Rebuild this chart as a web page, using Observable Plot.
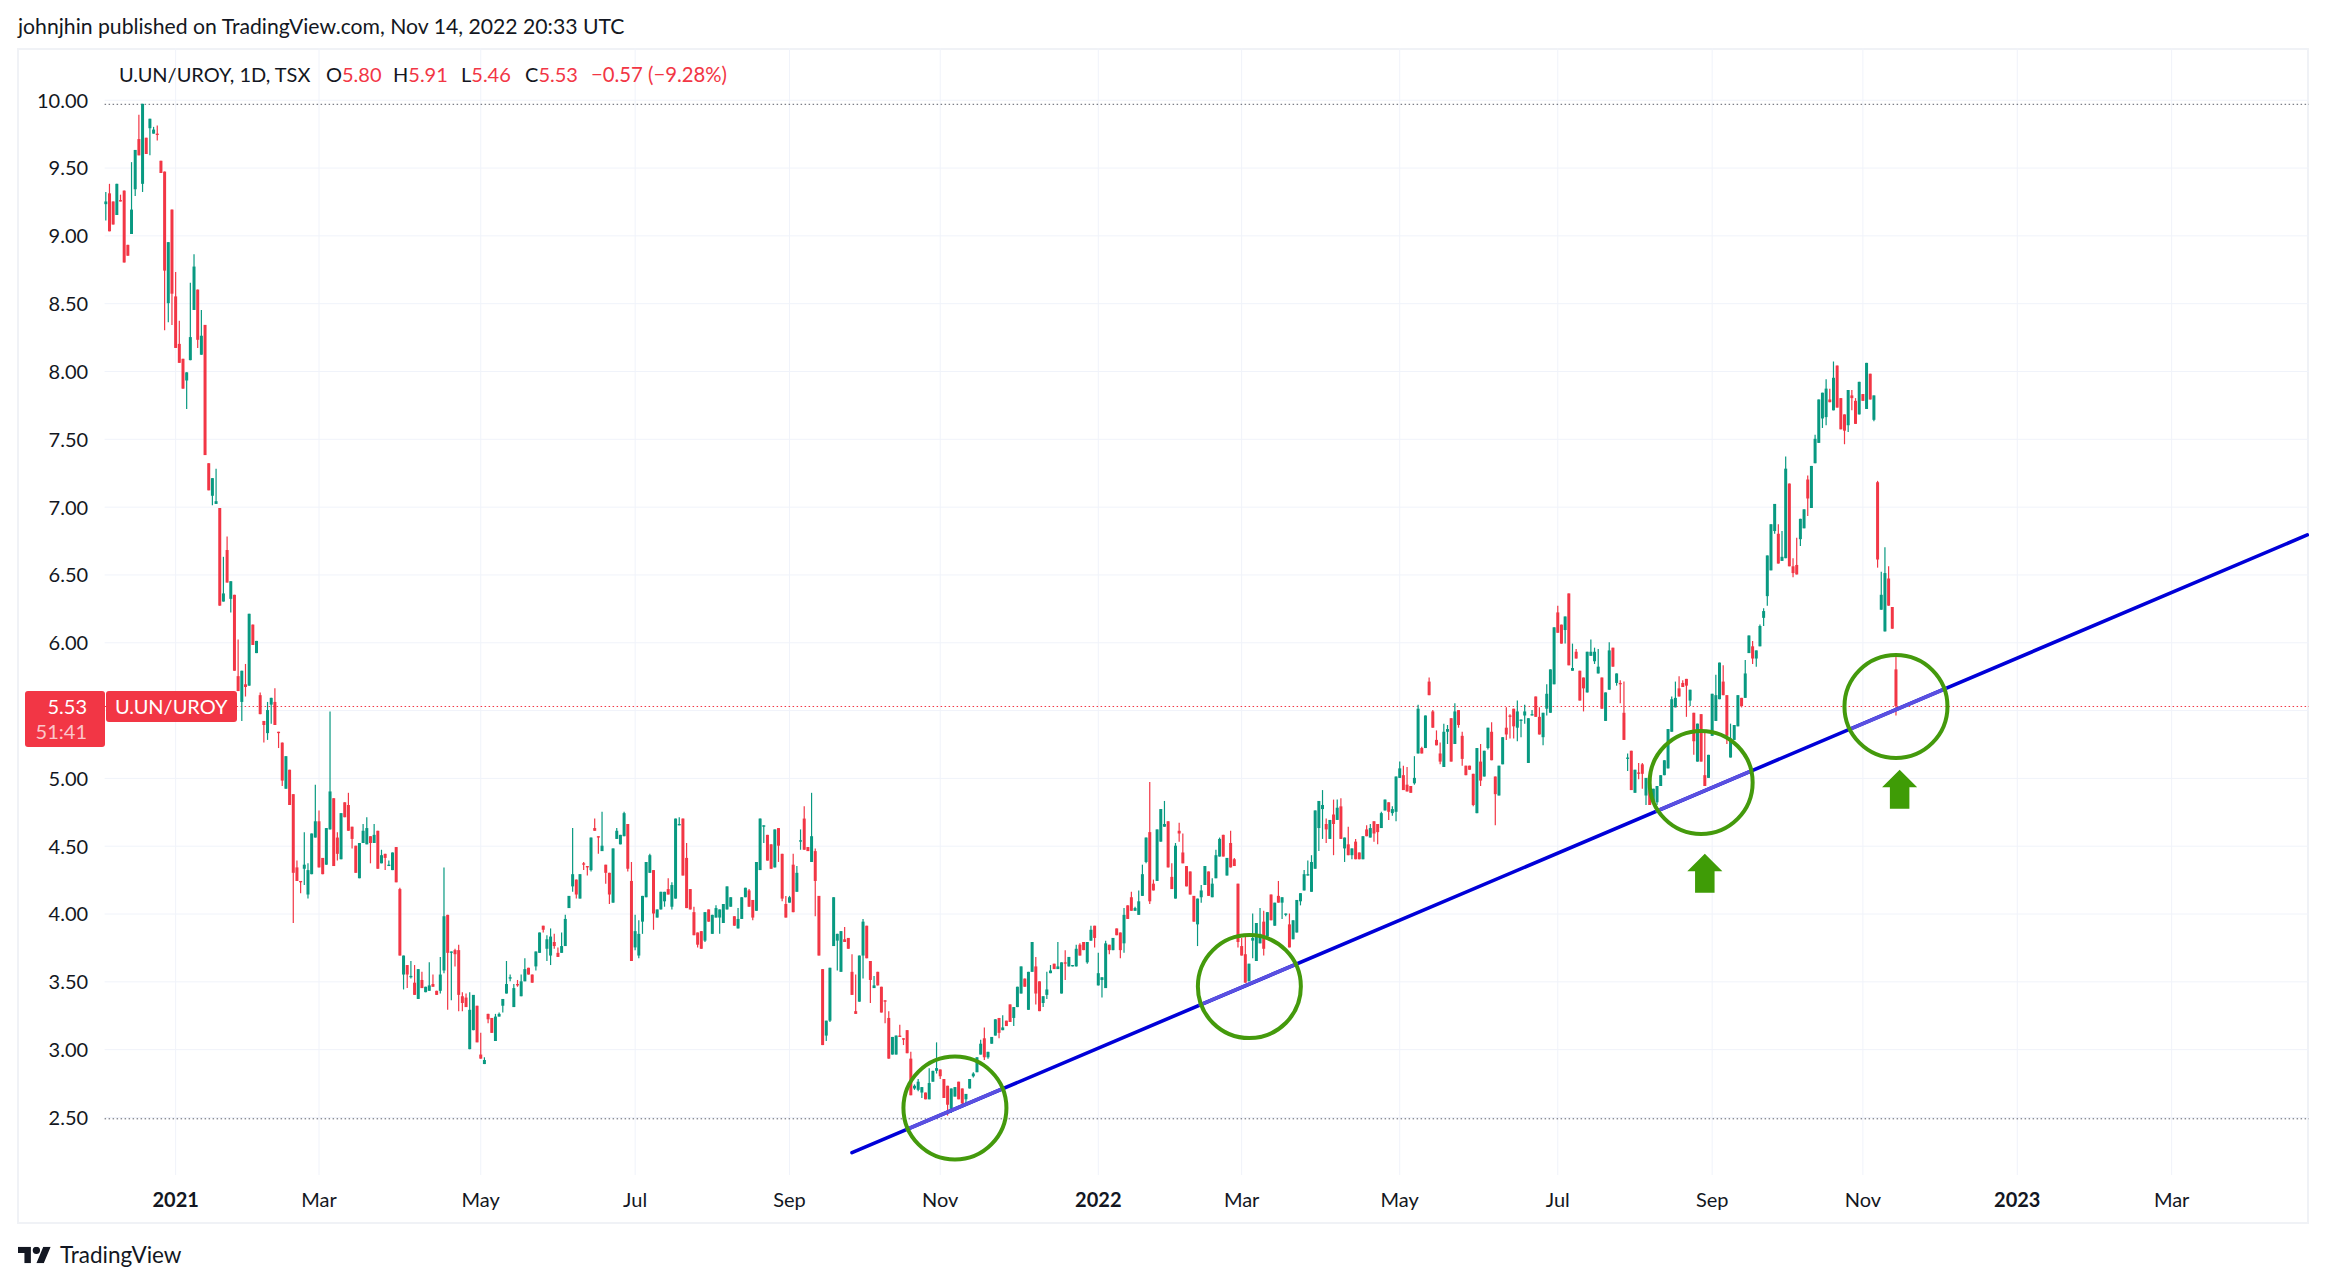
<!DOCTYPE html>
<html>
<head>
<meta charset="utf-8">
<script src="https://cdn.jsdelivr.net/npm/d3@7"></script>
<script src="https://cdn.jsdelivr.net/npm/@observablehq/plot@0.6"></script>
<style>
html,body{margin:0;padding:0;background:#fff;overflow:hidden}
body{width:2326px;height:1285px;position:relative;font-family:"Lato",sans-serif;color:#131722}
.abs{position:absolute;white-space:pre;line-height:1}
#frame{position:absolute;left:17px;top:48px;width:2292px;height:1176px;box-sizing:border-box;border:2px solid #f0f2f6}
.tag{position:absolute;background:#f23645;border-radius:3px}
.r{color:#f23645}
#logo{position:absolute;left:18px;top:1243px;width:36px;height:28px;background:#131722;transform:scale(.92);transform-origin:0 0;
clip-path:path('M14 22H7V11H0V4h14v18zM28 22h-8l7.5-18h8L28 22zM16 8a4 4 0 1 0 8 0a4 4 0 1 0-8 0z')}
</style>
</head>
<body>
<div class="abs" id="title" style="left:18px;top:16px;font-size:21.2px">johnjhin published on TradingView.com, Nov 14, 2022 20:33 UTC</div>
<div id="frame"></div>
<div class="abs" style="left:119px;top:64px;font-size:20px">U.UN/UROY, 1D, TSX</div>
<div class="abs" style="left:326px;top:64px;font-size:20px">O<span class="r">5.80</span></div>
<div class="abs" style="left:393px;top:64px;font-size:20px">H<span class="r">5.91</span></div>
<div class="abs" style="left:461px;top:64px;font-size:20px">L<span class="r">5.46</span></div>
<div class="abs" style="left:525px;top:64px;font-size:20px">C<span class="r">5.53</span></div>
<div class="abs r" style="left:591px;top:64px;font-size:20px;font-size:20.3px">−0.57 (−9.28%)</div>
<div class="tag" style="left:25px;top:691px;width:80px;height:56px"></div>
<div class="tag" style="left:106px;top:691px;width:131px;height:31px"></div>
<div class="abs" style="left:25px;width:62px;text-align:right;top:696px;font-size:20px;color:#fff">5.53</div>
<div class="abs" style="left:25px;width:62px;text-align:right;top:721px;font-size:20px;color:rgba(255,255,255,.72)">51:41</div>
<div class="abs" style="left:115px;top:696px;font-size:20px;color:#fff">U.UN/UROY</div>
<div id="logo"></div>
<div class="abs" style="left:60px;top:1244px;font-size:22.5px;color:#131722">TradingView</div>
<script>
// Bars as [open, high, low, close], in price order.
const barsA=[[9.23,9.32,9.11,9.25],[9.31,9.38,9.03,9.03],[9.25,9.25,9.08,9.08],[9.15,9.38,9.15,9.38],[9.26,9.30,9.25,9.25],[9.33,9.33,8.80,8.80],[8.93,8.93,8.85,8.85],[9.01,9.54,9.01,9.19],[9.34,9.63,9.29,9.63],[9.71,9.89,9.59,9.59],[9.38,9.97,9.32,9.97],[9.72,9.72,9.60,9.60],[9.79,9.86,9.59,9.86],[9.75,9.80,9.75,9.78],[9.75,9.81,9.70,9.74],[9.55,9.55,9.46,9.46],[9.47,9.47,8.30,8.74],[8.50,8.95,8.36,8.95],[9.19,9.19,8.34,8.57],[8.55,8.73,8.17,8.17],[8.20,8.37,8.06,8.06],[8.09,8.09,7.87,7.87],[7.93,7.99,7.72,7.99],[8.08,8.65,8.08,8.25],[8.45,8.86,8.45,8.77],[8.60,8.60,8.17,8.23],[8.12,8.45,8.12,8.26],[8.34,8.34,7.38,7.38],[7.32,7.32,7.12,7.12],[7.08,7.21,7.01,7.21],[7.02,7.28,7.02,7.04],[6.99,6.99,6.27,6.27],[6.30,6.63,6.30,6.36],[6.68,6.78,6.44,6.44],[6.32,6.45,6.22,6.45]];
const barsB=[[6.35,6.35,5.79,5.79],[5.75,6.02,5.64,5.64],[5.56,5.79,5.42,5.79],[5.69,5.84,5.60,5.67],[5.68,6.21,5.68,6.21],[6.13,6.13,5.98,5.98],[5.92,6.01,5.92,6.01],[5.61,5.63,5.47,5.47],[5.42,5.42,5.26,5.39],[5.33,5.56,5.28,5.50],[5.54,5.59,5.40,5.59],[5.56,5.66,5.39,5.39],[5.34,5.34,5.22,5.33],[5.26,5.26,4.94,4.98],[4.92,5.16,4.92,5.16],[5.06,5.06,4.80,4.80],[4.88,4.88,3.93,4.30],[4.34,4.39,4.24,4.24],[4.24,4.24,4.15,4.23],[4.33,4.60,4.21,4.36],[4.14,4.37,4.11,4.32],[4.29,4.59,4.29,4.59],[4.56,4.95,4.56,4.68],[4.68,4.76,4.34,4.34],[4.41,4.41,4.29,4.29],[4.36,4.63,4.36,4.63],[4.62,5.49,4.62,4.90],[4.85,4.85,4.35,4.35],[4.56,4.60,4.39,4.44],[4.40,4.74,4.40,4.74],[4.82,4.82,4.71,4.71],[4.80,4.89,4.61,4.61],[4.64,4.64,4.48,4.55],[4.50,4.50,4.30,4.30],[4.26,4.52,4.26,4.52],[4.52,4.66,4.52,4.61],[4.51,4.71,4.51,4.63],[4.57,4.57,4.37,4.52],[4.52,4.66,4.52,4.58],[4.61,4.61,4.33,4.33],[4.37,4.47,4.37,4.43],[4.44,4.44,4.32,4.41],[4.35,4.39,4.35,4.36],[4.32,4.45,4.32,4.45],[4.49,4.49,4.23,4.23],[4.18,4.19,3.69,3.69],[3.55,3.69,3.44,3.69],[3.62,3.62,3.45,3.55],[3.53,3.65,3.52,3.54],[3.49,3.62,3.40,3.40],[3.37,3.59,3.37,3.59],[3.51,3.57,3.45,3.45],[3.42,3.46,3.42,3.46],[3.43,3.64,3.43,3.47],[3.48,3.55,3.46,3.46],[3.43,3.43,3.40,3.40],[3.43,3.68,3.41,3.55],[3.58,4.34,3.56,3.98],[3.99,3.99,3.29,3.71],[3.71,3.72,3.36,3.72],[3.73,3.74,3.61,3.70],[3.73,3.77,3.28,3.40],[3.39,3.42,3.28,3.34],[3.38,3.41,3.31,3.31],[3.00,3.42,3.00,3.29],[3.14,3.40,3.14,3.40],[3.32,3.32,3.05,3.05],[2.96,3.12,2.93,2.93],[2.89,2.94,2.89,2.92],[3.26,3.26,3.19,3.22],[3.23,3.23,3.12,3.12],[3.06,3.26,3.06,3.24],[3.24,3.27,3.24,3.26],[3.32,3.37,3.27,3.37],[3.41,3.65,3.41,3.48],[3.52,3.55,3.50,3.53],[3.31,3.48,3.31,3.45],[3.48,3.51,3.46,3.47],[3.39,3.55,3.39,3.50],[3.50,3.67,3.50,3.59],[3.60,3.60,3.55,3.55],[3.55,3.55,3.49,3.49],[3.61,3.72,3.58,3.72],[3.71,3.86,3.71,3.86],[3.91,3.91,3.86,3.88],[3.74,3.84,3.65,3.81],[3.69,3.89,3.62,3.83],[3.79,3.85,3.74,3.76],[3.71,3.75,3.68,3.68],[3.71,3.86,3.71,3.76],[3.76,3.99,3.76,3.96],[4.04,4.13,4.04,4.13],[4.20,4.63,4.16,4.29],[4.25,4.25,4.11,4.14],[4.11,4.29,4.11,4.29],[4.37,4.38,4.32,4.36],[4.35,4.35,4.28,4.34],[4.32,4.56,4.31,4.56],[4.63,4.70,4.61,4.61],[4.57,4.57,4.44,4.56],[4.46,4.75,4.46,4.50],[4.36,4.36,4.22,4.30],[4.30,4.30,4.07,4.14],[4.08,4.48,4.08,4.48],[4.55,4.63,4.55,4.61]];
const barsC=[[4.51,4.58,4.51,4.58],[4.57,4.75,4.57,4.74],[4.66,4.66,4.31,4.33],[4.24,4.38,3.65,3.65],[3.75,3.99,3.73,3.87],[3.69,3.95,3.67,3.85],[3.94,4.13,3.85,4.13],[4.12,4.38,4.12,4.38],[4.30,4.44,4.30,4.43],[4.32,4.32,3.88,4.00],[3.97,4.03,3.97,4.03],[4.03,4.16,4.03,4.16],[4.09,4.16,4.05,4.16],[4.18,4.26,4.14,4.14],[4.05,4.23,4.03,4.21],[4.11,4.70,4.11,4.70],[4.65,4.71,4.65,4.66],[4.70,4.70,4.28,4.28],[4.41,4.52,4.04,4.04],[4.18,4.18,4.03,4.03],[4.01,4.05,3.84,3.84],[3.86,3.86,3.75,3.77],[3.87,3.87,3.74,3.74],[3.80,4.01,3.79,4.01],[4.03,4.03,3.94,3.94],[3.85,3.99,3.85,3.99],[3.97,4.06,3.97,4.04],[3.97,4.03,3.85,4.03],[3.93,4.07,3.93,4.07],[4.03,4.20,4.03,4.20],[4.05,4.12,4.05,4.12],[3.98,3.98,3.91,3.91],[3.89,4.04,3.89,3.96],[3.96,4.12,3.96,4.12],[4.12,4.19,4.12,4.19],[4.17,4.18,4.05,4.05],[4.10,4.10,3.95,3.97],[4.02,4.38,4.02,4.38],[4.32,4.70,4.32,4.70],[4.64,4.65,4.52,4.65],[4.58,4.58,4.39,4.39],[4.51,4.51,4.33,4.33],[4.34,4.62,4.34,4.62],[4.63,4.63,4.38,4.50],[4.44,4.44,4.09,4.11],[4.07,4.13,3.97,3.97],[4.08,4.13,4.08,4.12],[4.36,4.44,4.01,4.01],[4.16,4.35,4.16,4.30],[4.53,4.62,4.47,4.54],[4.70,4.79,4.47,4.47],[4.49,4.49,4.46,4.46],[4.38,4.89,4.38,4.57],[4.46,4.48,3.98,4.24],[4.13,4.13,3.69,3.69],[3.59,3.59,3.03,3.03],[3.10,3.21,3.06,3.21],[3.21,3.60,3.20,3.60],[3.76,4.12,3.76,4.12],[3.80,3.85,3.58,3.85],[3.57,3.87,3.57,3.87],[3.81,3.90,3.79,3.79],[3.82,3.82,3.74,3.74],[3.57,3.70,3.40,3.40],[3.28,3.55,3.26,3.26],[3.35,3.69,3.35,3.69],[3.69,3.96,3.52,3.94],[3.91,3.91,3.67,3.67],[3.65,3.65,3.34,3.51],[3.45,3.54,3.45,3.47],[3.57,3.57,3.47,3.47],[3.46,3.46,3.27,3.27],[3.36,3.36,3.19,3.35],[3.23,3.28,2.93,2.93],[2.96,3.09,2.96,3.09],[2.96,3.10,2.96,3.10],[3.10,3.18,3.09,3.09],[3.08,3.08,3.03,3.07],[3.14,3.14,2.97,2.97],[2.93,2.98,2.66,2.66],[2.71,2.74,2.70,2.73],[2.70,2.78,2.69,2.76],[2.68,2.72,2.64,2.72],[2.68,2.68,2.63,2.63],[2.63,2.86,2.63,2.75],[2.76,2.84,2.76,2.84],[2.84,3.05,2.82,2.86],[2.85,2.85,2.78,2.80],[2.78,2.78,2.64,2.64],[2.73,2.73,2.51,2.59],[2.56,2.71,2.53,2.71],[2.65,2.72,2.65,2.72],[2.76,2.76,2.63,2.63]];
const barsD=[[2.71,2.71,2.58,2.60],[2.63,2.67,2.58,2.67],[2.71,2.78,2.71,2.78],[2.80,2.83,2.79,2.82],[2.83,2.94,2.83,2.94],[2.96,3.07,2.96,3.04],[3.08,3.16,2.92,2.94],[2.94,2.98,2.93,2.98],[3.04,3.09,3.04,3.09],[3.10,3.22,3.10,3.22],[3.23,3.23,3.08,3.12],[3.14,3.25,3.14,3.16],[3.21,3.21,3.17,3.17],[3.33,3.33,3.20,3.20],[3.23,3.31,3.17,3.31],[3.31,3.46,3.31,3.46],[3.41,3.61,3.41,3.61],[3.52,3.52,3.46,3.46],[3.29,3.57,3.29,3.57],[3.57,3.79,3.57,3.79],[3.61,3.68,3.33,3.41],[3.50,3.50,3.28,3.28],[3.34,3.39,3.31,3.39],[3.40,3.57,3.37,3.44],[3.56,3.62,3.56,3.58],[3.63,3.63,3.59,3.59],[3.59,3.79,3.59,3.61],[3.41,3.64,3.41,3.64],[3.64,3.73,3.51,3.63],[3.61,3.68,3.61,3.68],[3.61,3.62,3.61,3.62],[3.61,3.77,3.61,3.74],[3.77,3.78,3.69,3.69],[3.79,3.79,3.73,3.73],[3.64,3.79,3.63,3.79],[3.80,3.91,3.80,3.88],[3.91,3.91,3.75,3.82],[3.47,3.71,3.47,3.56],[3.51,3.53,3.38,3.53],[3.45,3.80,3.45,3.78],[3.77,3.77,3.70,3.73],[3.73,3.82,3.73,3.82],[3.89,3.89,3.84,3.84],[3.86,3.86,3.67,3.73],[3.78,4.04,3.71,3.99],[4.06,4.06,3.96,3.96],[4.12,4.16,4.02,4.02],[4.02,4.05,4.02,4.04],[3.99,4.17,3.99,4.09],[4.13,4.36,4.13,4.29],[4.38,4.56,4.37,4.56],[4.60,4.97,4.07,4.09],[4.22,4.25,4.17,4.17],[4.24,4.62,4.24,4.62],[4.53,4.77,4.53,4.77],[4.64,4.83,4.64,4.66],[4.68,4.68,4.34,4.34],[4.27,4.37,4.18,4.18],[4.11,4.52,4.11,4.50],[4.61,4.67,4.53,4.59],[4.45,4.59,4.37,4.37],[4.35,4.35,4.20,4.20],[4.31,4.31,4.14,4.14],[4.13,4.13,3.94,3.94],[3.92,4.11,3.76,4.11],[4.12,4.21,4.08,4.17],[4.21,4.35,4.21,4.35],[4.31,4.31,4.13,4.13],[4.12,4.26,4.12,4.22],[4.26,4.47,4.26,4.43],[4.42,4.56,4.42,4.55],[4.58,4.58,4.42,4.42],[4.28,4.41,4.28,4.41],[4.52,4.61,4.34,4.34],[4.40,4.41,4.35,4.35],[4.22,4.22,3.75,3.79],[3.76,3.82,3.69,3.69],[3.70,3.84,3.49,3.49],[3.50,3.63,3.50,3.63],[3.80,4.00,3.67,3.82],[3.65,3.93,3.65,3.93],[3.78,4.04,3.78,3.85],[3.94,4.02,3.69,3.74],[3.83,4.01,3.83,4.01],[4.14,4.14,3.95,3.95],[3.91,4.08,3.91,4.08],[4.13,4.24,4.08,4.08],[4.08,4.12,3.96,4.12],[3.99,4.00,3.98,4.00],[3.92,4.00,3.75,3.75],[3.81,3.95,3.81,3.95],[3.86,4.10,3.86,4.10],[4.09,4.15,4.06,4.15],[4.17,4.32,4.17,4.29],[4.28,4.39,4.28,4.29],[4.16,4.43,4.16,4.38],[4.33,4.76,4.33,4.76],[4.63,4.83,4.46,4.83],[4.77,4.91,4.55,4.80],[4.66,4.70,4.52,4.62],[4.55,4.69,4.55,4.69],[4.73,4.84,4.43,4.66],[4.69,4.84,4.69,4.78],[4.79,4.85,4.55,4.55],[4.48,4.56,4.38,4.56],[4.51,4.64,4.43,4.43]];
const barsE=[[4.43,4.48,4.40,4.48],[4.53,4.55,4.40,4.40],[4.45,4.45,4.40,4.40],[4.40,4.57,4.40,4.57],[4.62,4.65,4.57,4.57],[4.56,4.66,4.56,4.63],[4.68,4.68,4.53,4.59],[4.66,4.66,4.51,4.60],[4.63,4.75,4.63,4.74],[4.76,4.84,4.76,4.84],[4.82,4.82,4.69,4.75],[4.74,4.79,4.72,4.77],[4.75,5.01,4.68,5.01],[5.00,5.12,5.00,5.07],[5.02,5.09,4.91,4.91],[4.95,5.08,4.90,4.90],[4.94,4.94,4.89,4.89],[4.96,5.16,4.95,5.00],[5.18,5.54,5.18,5.51],[5.22,5.23,5.18,5.18],[5.22,5.46,5.22,5.46],[5.71,5.74,5.61,5.61],[5.49,5.50,5.37,5.37],[5.28,5.35,5.24,5.24],[5.18,5.26,5.10,5.12],[5.08,5.40,5.08,5.34],[5.34,5.39,5.25,5.36],[5.44,5.44,5.12,5.12],[5.25,5.55,5.25,5.49],[5.50,5.50,5.37,5.39],[5.31,5.34,5.09,5.14],[5.09,5.09,5.02,5.02],[5.09,5.09,5.06,5.06],[5.03,5.03,4.79,4.80],[4.74,5.22,4.74,5.22],[5.12,5.25,4.94,4.98],[5.01,5.20,5.01,5.20],[5.22,5.37,5.21,5.37],[5.34,5.41,5.13,5.13],[5.01,5.01,4.65,4.88],[4.87,5.09,4.87,5.09],[5.10,5.30,5.10,5.30],[5.37,5.52,5.28,5.32],[5.46,5.47,5.29,5.45],[5.51,5.51,5.29,5.38],[5.37,5.57,5.27,5.49],[5.42,5.43,5.30,5.43],[5.46,5.54,5.40,5.49],[5.11,5.44,5.11,5.44],[5.46,5.50,5.46,5.47],[5.60,5.60,5.45,5.45],[5.45,5.52,5.32,5.32],[5.30,5.48,5.24,5.48],[5.51,5.69,5.46,5.62],[5.48,5.80,5.48,5.80],[5.69,6.11,5.69,6.11],[6.22,6.27,6.07,6.07],[6.13,6.13,5.99,5.99],[6.09,6.19,5.99,6.19],[6.36,6.36,5.83,5.83],[5.79,5.99,5.79,5.81],[5.93,5.95,5.88,5.88],[5.79,5.79,5.57,5.57],[5.74,5.74,5.49,5.66],[5.63,5.93,5.63,5.93],[5.90,6.02,5.90,5.93],[5.86,5.96,5.84,5.93],[5.77,5.95,5.77,5.82],[5.74,5.74,5.51,5.51],[5.42,5.63,5.42,5.63],[5.65,6.00,5.65,5.94],[5.96,5.96,5.82,5.82],[5.70,5.77,5.68,5.77],[5.70,5.72,5.55,5.69],[5.48,5.71,5.28,5.28],[5.14,5.18,5.05,5.15],[5.20,5.20,4.91,4.91],[4.89,5.06,4.89,5.06],[5.04,5.11,4.99,5.03],[5.10,5.11,4.92,5.03],[4.87,5.00,4.80,5.00],[4.95,4.95,4.80,4.80],[4.81,4.92,4.81,4.92],[4.82,4.94,4.80,4.94],[4.94,5.02,4.94,5.02],[5.02,5.13,5.02,5.13],[5.07,5.36,5.07,5.36],[5.34,5.60,5.34,5.58],[5.52,5.71,5.52,5.59],[5.66,5.75,5.60,5.60],[5.70,5.72,5.67,5.67],[5.73,5.73,5.45,5.68],[5.57,5.65,5.53,5.65],[5.48,5.48,5.17,5.27],[5.12,5.40,5.12,5.40],[5.47,5.47,5.12,5.12],[5.02,5.34,4.94,4.94],[5.00,5.17,5.00,5.17],[5.31,5.62,5.31,5.62],[5.42,5.76,5.42,5.61],[5.58,5.85,5.58,5.85],[5.71,5.83,5.61,5.61],[5.61,5.61,5.25,5.31],[5.15,5.40,5.15,5.29],[5.28,5.39,5.28,5.39],[5.38,5.61,5.38,5.61]];
const barsF=[[5.59,5.59,5.52,5.53],[5.59,5.87,5.59,5.77],[5.92,6.05,5.92,6.05],[5.97,6.01,5.84,5.88],[5.88,5.94,5.82,5.94],[5.97,6.13,5.97,6.12],[6.18,6.25,6.12,6.23],[6.34,6.64,6.27,6.64],[6.53,6.87,6.53,6.87],[6.82,7.02,6.80,7.02],[6.80,6.87,6.58,6.58],[6.60,6.82,6.60,6.63],[6.62,7.37,6.62,7.28],[7.17,7.17,6.56,6.56],[6.56,6.62,6.48,6.51],[6.57,6.77,6.50,6.50],[6.76,6.91,6.71,6.91],[6.84,6.98,6.84,6.98],[7.20,7.23,6.93,7.06],[6.99,7.30,6.99,7.30],[7.32,7.53,7.32,7.50],[7.47,7.79,7.47,7.79],[7.65,7.84,7.58,7.84],[7.66,7.94,7.60,7.87],[7.79,7.87,7.77,7.77],[7.71,8.07,7.71,7.95],[8.04,8.04,7.73,7.73],[7.80,7.80,7.57,7.57],[7.68,7.68,7.46,7.56],[7.60,7.86,7.55,7.86],[7.82,7.86,7.71,7.80],[7.78,7.80,7.61,7.61],[7.68,7.92,7.68,7.92],[7.83,7.83,7.78,7.78],[7.72,8.06,7.72,8.06],[7.98,7.98,7.79,7.79],[7.64,7.82,7.63,7.82],[7.18,7.19,6.55,6.61],[6.24,6.52,6.24,6.35],[6.08,6.70,6.08,6.51],[6.47,6.56,6.27,6.27],[6.26,6.26,6.10,6.10],[5.80,5.91,5.46,5.53]];

const priceTicks=[2.5,3,3.5,4,4.5,5,5.5,6,6.5,7,7.5,8,8.5,9,9.5,10];
const monthTickBars=[58,102,144,186,227,309,352,395,437,478,562];
const monthTickLabels=["Mar","May","Jul","Sep","Nov","Mar","May","Jul","Sep","Nov","Mar"];
const yearTickBars=[19,270,520];
const yearTickLabels=["2021","2022","2023"];
const highLine=9.97, lowLine=2.49, lastPrice=5.53;
const trendBars=[203,598.9], trendPrices=[2.24,6.795];
const fadedBars=[[218,244],[297.7,323.9],[422,447.5],[474.4,500.4]];
const fadedPrices=[[2.413,2.712],[3.33,3.631],[4.76,5.053],[5.362,5.661]];
const circleBars=[231,311.1,434,487];
const circlePrices=[2.57,3.465,4.97,5.53];
const arrowBars=[435,488];
const arrowPrices=[4.30,4.92];

const UP="#089981",DOWN="#f23645";
const candles=[...barsA,...barsB,...barsC,...barsD,...barsE,...barsF].map(([o,h,l,c],i)=>({i,o,h,l,c}));
const up=candles.filter(d=>d.c>=d.o),down=candles.filter(d=>d.c<d.o);
const faded=fadedBars.flatMap((b,k)=>b.map((x,j)=>({x,y:fadedPrices[k][j],k})));
const trend=trendBars.map((x,j)=>({x,y:trendPrices[j]}));
const circles=circleBars.map((x,j)=>({x,y:circlePrices[j]}));
const arrows=arrowBars.map((x,j)=>({x,y:arrowPrices[j]}));
const allTicks=[...monthTickBars,...yearTickBars];
const arrowSymbol={draw(ctx,size){const s=Math.sqrt(size/Math.PI);
  ctx.moveTo(0,-s);ctx.lineTo(s*.9,-s*.1);ctx.lineTo(s*.5,-s*.1);ctx.lineTo(s*.5,s);ctx.lineTo(-s*.5,s);ctx.lineTo(-s*.5,-s*.1);ctx.lineTo(-s*.9,-s*.1);ctx.closePath();}};

const chart=Plot.plot({
  width:2292,height:1175,marginLeft:87.6,marginRight:0,marginTop:0,marginBottom:48,
  style:{fontFamily:"Lato, sans-serif",fontSize:"20px",color:"#131722",background:"transparent",position:"absolute",left:"17px",top:"48px"},
  x:{domain:[-0.19,599.5],label:null},
  y:{domain:[2.072,10.3815],label:null},
  marks:[
    Plot.gridY(priceTicks,{stroke:"#f0f3fa",strokeOpacity:1}),
    Plot.gridX(allTicks,{stroke:"#f0f3fa",strokeOpacity:1}),
    Plot.ruleY([highLine,lowLine],{stroke:"#5d606b",strokeDasharray:"1.5,2.5",strokeWidth:1}),
    Plot.ruleY([lastPrice],{stroke:DOWN,strokeDasharray:"1.5,2.5",strokeWidth:1}),
    Plot.axisY(priceTicks,{anchor:"left",tickSize:0,tickPadding:17,dy:1,tickFormat:d3.format(".2f"),label:null,fontSize:20}),
    Plot.axisX(monthTickBars,{anchor:"bottom",tickSize:0,tickPadding:17,label:null,fontSize:20,tickFormat:d=>monthTickLabels[monthTickBars.indexOf(d)]}),
    Plot.axisX(yearTickBars,{anchor:"bottom",tickSize:0,tickPadding:17,label:null,fontSize:20,fontWeight:700,tickFormat:d=>yearTickLabels[yearTickBars.indexOf(d)]}),
    Plot.ruleX(up,{x:"i",y1:"l",y2:"h",stroke:UP,strokeWidth:1.2}),
    Plot.ruleX(down,{x:"i",y1:"l",y2:"h",stroke:DOWN,strokeWidth:1.2}),
    Plot.ruleX(up,{x:"i",y1:"o",y2:"c",stroke:UP,strokeWidth:3}),
    Plot.ruleX(down,{x:"i",y1:"o",y2:"c",stroke:DOWN,strokeWidth:3}),
    Plot.line(trend,{x:"x",y:"y",stroke:"#0000d8",strokeWidth:3.6}),
    Plot.line(faded,{x:"x",y:"y",z:"k",stroke:"#5a50e0",strokeWidth:3.6}),
    Plot.dot(circles,{x:"x",y:"y",r:51.5,stroke:"#449a0c",strokeWidth:4,fill:"none"}),
    Plot.dot(arrows,{x:"x",y:"y",r:19.5,symbol:arrowSymbol,fill:"#3f9c06",stroke:"none"})
  ]
});
document.body.insertBefore(chart,document.getElementById("frame").nextSibling);
</script>
</body>
</html>
